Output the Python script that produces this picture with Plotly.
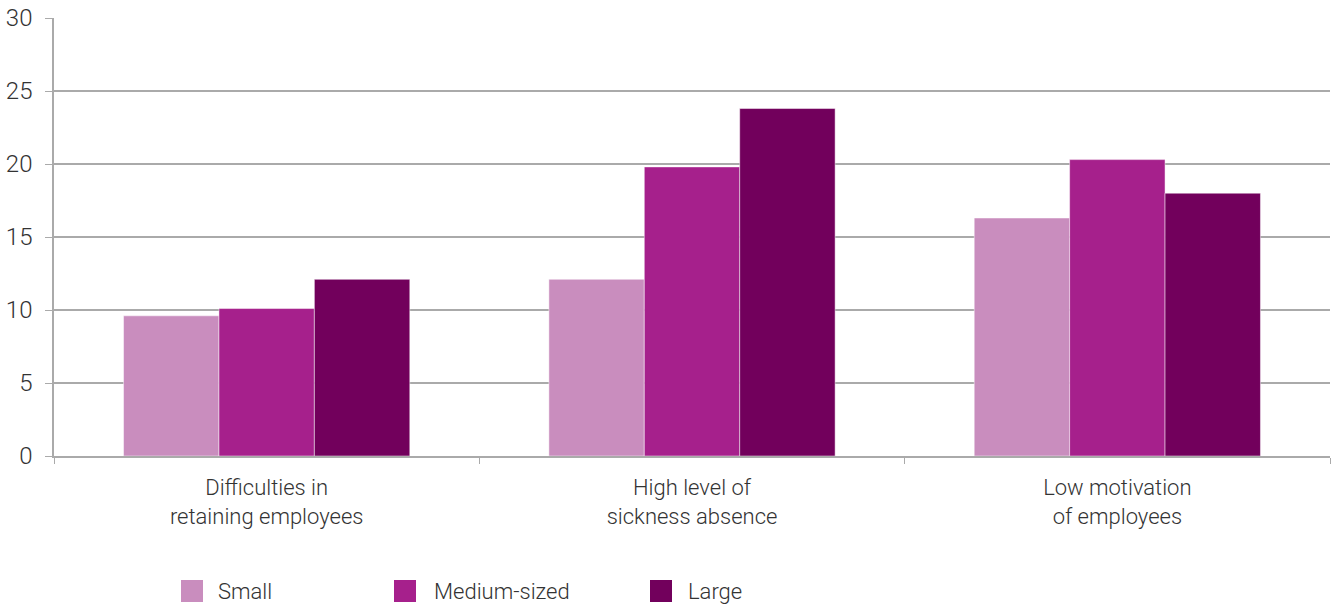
import plotly.graph_objects as go

categories = ["Difficulties in<br>retaining employees",
              "High level of<br>sickness absence",
              "Low motivation<br>of employees"]
series_names = ["Small", "Medium-sized", "Large"]
small = [9.6, 12.1, 16.3]
medium = [10.1, 19.8, 20.3]
large = [12.1, 23.8, 18.0]
y_ticks = [0, 5, 10, 15, 20, 25, 30]

colors = ["#C98DBE", "#A6208C", "#72005C"]
FONT = dict(family="Roboto, 'Helvetica Neue', Arial, sans-serif", size=22, color="#333333", weight=300)
TICKFONT = dict(FONT, size=24)

fig = go.Figure()
for name, vals, col in zip(series_names, [small, medium, large], colors):
    fig.add_trace(go.Bar(
        x=categories, y=vals, name=name, showlegend=False,
        marker=dict(color=col, line=dict(color="rgba(255,255,255,0.6)", width=0.8)),
    ))

W, H = 1338, 605
ml, mr, mt, mb = 54, 8, 18, 149
pw = W - ml - mr
ph = H - mt - mb

# legend (manual) positions in window pixels
leg_sq_x = [192, 405, 661]
leg_tx_x = [216, 432, 686]
leg_y = 591

shapes = []
annotations = []
for name, col, sx, tx in zip(series_names, colors, leg_sq_x, leg_tx_x):
    px = (sx - ml) / pw
    py = (H - mb - leg_y) / ph
    shapes.append(dict(type="rect", xref="paper", yref="paper",
                       xsizemode="pixel", ysizemode="pixel",
                       xanchor=px, yanchor=py, x0=-11, x1=11, y0=-11, y1=11,
                       fillcolor=col, line=dict(width=0)))
    annotations.append(dict(text=name, xref="paper", yref="paper",
                            x=(tx - ml) / pw, y=py, xanchor="left", yanchor="middle",
                            showarrow=False, font=FONT))

fig.update_layout(
    width=W, height=H,
    margin=dict(l=ml, r=mr, t=mt, b=mb, pad=0, autoexpand=False),
    paper_bgcolor="white", plot_bgcolor="white",
    barmode="group", bargap=0.327, bargroupgap=0,
    font=FONT,
    shapes=shapes, annotations=annotations,
    xaxis=dict(
        automargin=False,
        showgrid=False, showline=True, linecolor="#AAAAAA", linewidth=1.5,
        ticks="outside", ticklen=6, tickcolor="#AAAAAA", tickson="boundaries",
        tickfont=FONT, ticklabelstandoff=11,
    ),
    yaxis=dict(
        automargin=False, ticklabeloverflow="allow",
        range=[0, 30], tickvals=y_ticks, showgrid=True, gridcolor="#AAAAAA", gridwidth=1.5,
        showline=True, linecolor="#AAAAAA", linewidth=1.5, zeroline=False,
        ticks="outside", ticklen=7, tickcolor="#AAAAAA",
        tickfont=TICKFONT, ticklabelstandoff=8,
    ),
)

fig.write_html("out.html", config={"displayModeBar": False},
               post_script="document.body.style.margin='0';")
